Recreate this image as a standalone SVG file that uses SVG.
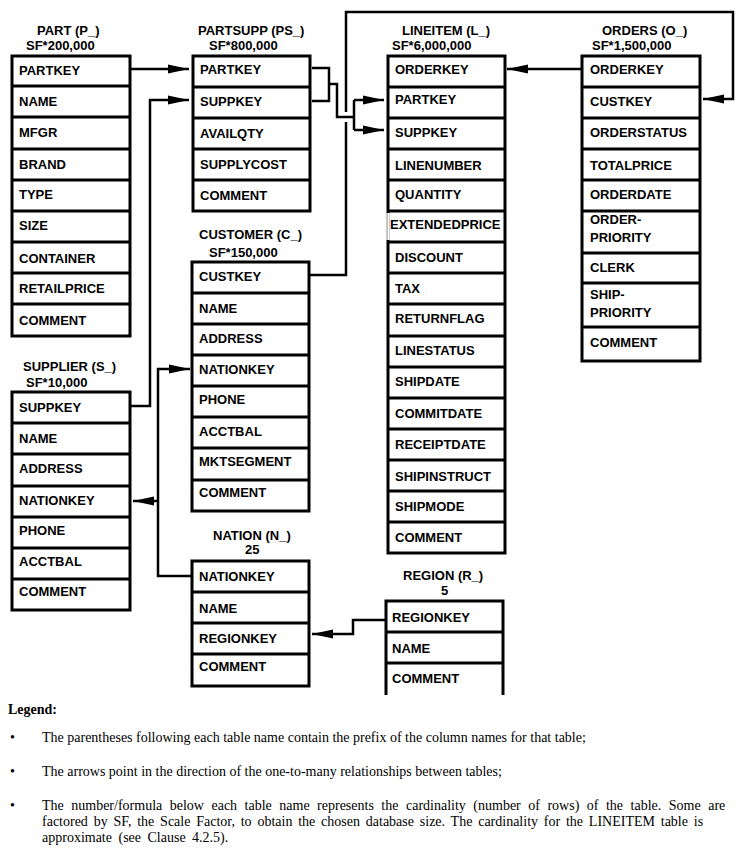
<svg xmlns="http://www.w3.org/2000/svg" width="742" height="850" viewBox="0 0 742 850">
<style>
  .box { fill: #fff; stroke: #000; stroke-width: 3; }
  .div { stroke: #000; stroke-width: 3; }
  .t { font-family: "Liberation Sans", Arial, sans-serif; font-weight: bold; font-size: 13px; fill: #000; }
  .conn path { fill: none; stroke: #000; stroke-width: 2.5; }
  .lg { font-family: "Liberation Serif", "Times New Roman", serif; font-size: 14px; fill: #000; }
</style>
<defs>
  <marker id="ah" markerUnits="userSpaceOnUse" markerWidth="22" markerHeight="11" refX="21" refY="5.5" orient="auto">
    <path d="M0,1 L21,5.5 L0,10 z" fill="#000"/>
  </marker>
</defs>
<rect width="742" height="850" fill="#fff"/>

<g id="part">
  <text class="t" x="37" y="35">PART (P_)</text>
  <text class="t" x="26" y="50">SF*200,000</text>
  <rect class="box" x="12" y="56" width="118" height="280"/>
  <path class="div" d="M12,86H130M12,117H130M12,149H130M12,180H130M12,211H130M12,242H130M12,273H130M12,304H130"/>
  <text class="t" x="19" y="75">PARTKEY</text>
  <text class="t" x="19" y="106">NAME</text>
  <text class="t" x="19" y="137">MFGR</text>
  <text class="t" x="19" y="169">BRAND</text>
  <text class="t" x="19" y="199">TYPE</text>
  <text class="t" x="19" y="230">SIZE</text>
  <text class="t" x="19" y="263">CONTAINER</text>
  <text class="t" x="19" y="293">RETAILPRICE</text>
  <text class="t" x="19" y="325">COMMENT</text>
</g>

<g id="partsupp">
  <text class="t" x="198" y="35">PARTSUPP (PS_)</text>
  <text class="t" x="209" y="50">SF*800,000</text>
  <rect class="box" x="193" y="56" width="117" height="155"/>
  <path class="div" d="M193,87H310M193,118H310M193,149H310M193,180H310"/>
  <text class="t" x="200" y="74">PARTKEY</text>
  <text class="t" x="200" y="106">SUPPKEY</text>
  <text class="t" x="200" y="138">AVAILQTY</text>
  <text class="t" x="200" y="169">SUPPLYCOST</text>
  <text class="t" x="200" y="200">COMMENT</text>
</g>

<g id="lineitem">
  <text class="t" x="402" y="35">LINEITEM (L_)</text>
  <text class="t" x="392" y="50">SF*6,000,000</text>
  <rect class="box" x="388" y="56" width="117" height="497"/>
  <path class="div" d="M388,87H505M388,118H505M388,149H505M388,180H505M388,211H505M388,242H505M388,273H505M388,304H505M388,336H505M388,367H505M388,398H505M388,429H505M388,460H505M388,491H505M388,522H505"/>
  <path d="M388,213V240" stroke="#fff" stroke-width="3.2"/>
  <path d="M387.5,213V240" stroke="#bbb" stroke-width="1"/>
  <text class="t" x="395" y="74">ORDERKEY</text>
  <text class="t" x="395" y="104">PARTKEY</text>
  <text class="t" x="395" y="137">SUPPKEY</text>
  <text class="t" x="395" y="170">LINENUMBER</text>
  <text class="t" x="395" y="199">QUANTITY</text>
  <text class="t" x="390" y="229">EXTENDEDPRICE</text>
  <text class="t" x="395" y="262">DISCOUNT</text>
  <text class="t" x="395" y="293">TAX</text>
  <text class="t" x="395" y="323">RETURNFLAG</text>
  <text class="t" x="395" y="355">LINESTATUS</text>
  <text class="t" x="395" y="386">SHIPDATE</text>
  <text class="t" x="395" y="418">COMMITDATE</text>
  <text class="t" x="395" y="449">RECEIPTDATE</text>
  <text class="t" x="395" y="481">SHIPINSTRUCT</text>
  <text class="t" x="395" y="511">SHIPMODE</text>
  <text class="t" x="395" y="542">COMMENT</text>
</g>

<g id="orders">
  <text class="t" x="602" y="35">ORDERS (O_)</text>
  <text class="t" x="592" y="50">SF*1,500,000</text>
  <rect class="box" x="582" y="56" width="118" height="305"/>
  <path class="div" d="M582,87H700M582,118H700M582,149H700M582,180H700M582,211H700M582,253H700M582,283H700M582,327H700"/>
  <text class="t" x="590" y="74">ORDERKEY</text>
  <text class="t" x="590" y="106">CUSTKEY</text>
  <text class="t" x="590" y="137">ORDERSTATUS</text>
  <text class="t" x="590" y="170">TOTALPRICE</text>
  <text class="t" x="590" y="199">ORDERDATE</text>
  <text class="t" x="590" y="224">ORDER-</text>
  <text class="t" x="590" y="242">PRIORITY</text>
  <text class="t" x="590" y="272">CLERK</text>
  <text class="t" x="590" y="299">SHIP-</text>
  <text class="t" x="590" y="317">PRIORITY</text>
  <text class="t" x="590" y="347">COMMENT</text>
</g>

<g id="customer">
  <text class="t" x="199" y="239">CUSTOMER (C_)</text>
  <text class="t" x="209" y="257">SF*150,000</text>
  <rect class="box" x="192" y="262" width="117" height="249"/>
  <path class="div" d="M192,293H309M192,324H309M192,355H309M192,386H309M192,417H309M192,448H309M192,480H309"/>
  <text class="t" x="199" y="281">CUSTKEY</text>
  <text class="t" x="199" y="313">NAME</text>
  <text class="t" x="199" y="343">ADDRESS</text>
  <text class="t" x="199" y="374">NATIONKEY</text>
  <text class="t" x="199" y="404">PHONE</text>
  <text class="t" x="199" y="436">ACCTBAL</text>
  <text class="t" x="199" y="466">MKTSEGMENT</text>
  <text class="t" x="199" y="497">COMMENT</text>
</g>

<g id="supplier">
  <text class="t" x="23" y="371">SUPPLIER (S_)</text>
  <text class="t" x="26" y="387">SF*10,000</text>
  <rect class="box" x="12" y="392" width="118" height="218"/>
  <path class="div" d="M12,423H130M12,454H130M12,486H130M12,517H130M12,548H130M12,579H130"/>
  <text class="t" x="19" y="412">SUPPKEY</text>
  <text class="t" x="19" y="443">NAME</text>
  <text class="t" x="19" y="473">ADDRESS</text>
  <text class="t" x="19" y="505">NATIONKEY</text>
  <text class="t" x="19" y="535">PHONE</text>
  <text class="t" x="19" y="566">ACCTBAL</text>
  <text class="t" x="19" y="596">COMMENT</text>
</g>

<g id="nation">
  <text class="t" x="213" y="540">NATION (N_)</text>
  <text class="t" x="245" y="554">25</text>
  <rect class="box" x="192" y="561" width="117" height="125"/>
  <path class="div" d="M192,592H309M192,623H309M192,654H309"/>
  <text class="t" x="199" y="581">NATIONKEY</text>
  <text class="t" x="199" y="613">NAME</text>
  <text class="t" x="199" y="643">REGIONKEY</text>
  <text class="t" x="199" y="671">COMMENT</text>
</g>

<g id="region">
  <text class="t" x="403" y="580">REGION (R_)</text>
  <text class="t" x="441" y="595">5</text>
  <path d="M386,695V601H503V695" fill="#fff" stroke="#000" stroke-width="3"/>
  <path class="div" d="M386,632H503M386,663H503"/>
  <text class="t" x="392" y="622">REGIONKEY</text>
  <text class="t" x="392" y="653">NAME</text>
  <text class="t" x="392" y="683">COMMENT</text>
</g>

<g id="connectors" class="conn">
  <path d="M131,69H189" marker-end="url(#ah)"/>
  <path d="M131,406H150V100H189" marker-end="url(#ah)"/>
  <path d="M312,68H329V101H312M329,84H337V117H354M354,100V130"/>
  <path d="M354,100H384" marker-end="url(#ah)"/>
  <path d="M354,130H384" marker-end="url(#ah)"/>
  <path d="M581,69H507" marker-end="url(#ah)"/>
  <path d="M310,275H346V122M346,112V12H733V99H703" marker-end="url(#ah)"/>
  <path d="M192,576H158V369H190" marker-end="url(#ah)"/>
  <path d="M158,501H133" marker-end="url(#ah)"/>
  <path d="M385,620H353V634H312" marker-end="url(#ah)"/>
</g>

<g id="legend">
  <text class="lg" x="8" y="714" font-weight="bold">Legend:</text>
  <text class="lg" x="10" y="742">•</text>
  <text class="lg" x="42" y="742">The parentheses following each table name contain the prefix of the column names for that table;</text>
  <text class="lg" x="10" y="776">•</text>
  <text class="lg" x="42" y="776">The arrows point in the direction of the one-to-many relationships between tables;</text>
  <text class="lg" x="10" y="810">•</text>
  <text class="lg" x="42" y="810" word-spacing="4">The number/formula below each table name represents the cardinality (number of rows) of the table. Some are</text>
  <text class="lg" x="42" y="826" word-spacing="2.3">factored by SF, the Scale Factor, to obtain the chosen database size. The cardinality for the LINEITEM table is</text>
  <text class="lg" x="42" y="842" word-spacing="3">approximate (see Clause 4.2.5).</text>
</g>
</svg>
